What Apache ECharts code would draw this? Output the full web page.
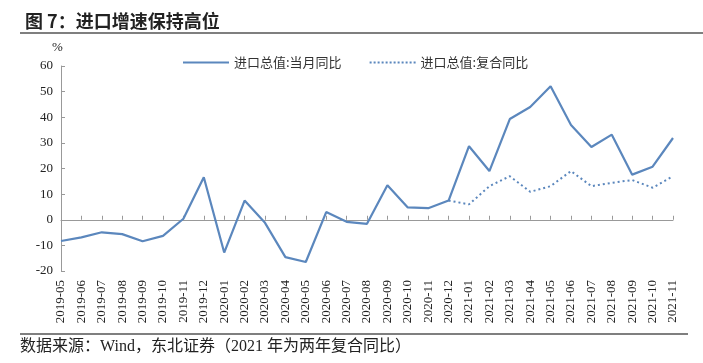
<!DOCTYPE html>
<html>
<head>
<meta charset="utf-8">
<script src="https://cdn.jsdelivr.net/npm/echarts@6/dist/echarts.min.js"></script>
<style>
html,body{margin:0;padding:0;background:#fff;}
#c{width:703px;height:363px;}
</style>
</head>
<body>
<div id="c"></div>
<script>
const categories = ['2019-05','2019-06','2019-07','2019-08','2019-09','2019-10','2019-11','2019-12',
  '2020-01','2020-02','2020-03','2020-04','2020-05','2020-06','2020-07','2020-08','2020-09','2020-10','2020-11','2020-12',
  '2021-01','2021-02','2021-03','2021-04','2021-05','2021-06','2021-07','2021-08','2021-09','2021-10','2021-11'];
const monthlyYoY = [-8.3,-6.9,-4.9,-5.6,-8.4,-6.3,0.4,16.6,
  -12.8,7.5,-1.2,-14.6,-16.5,3.0,-0.8,-1.6,13.5,4.8,4.5,7.5,
  28.7,19.0,39.3,44.0,52.1,37.0,28.4,33.2,17.6,20.7,31.9];
const compoundYoY = [null,null,null,null,null,null,null,null,
  null,null,null,null,null,null,null,null,null,null,null,7.5,
  6.0,13.1,17.0,10.9,13.1,19.0,13.1,14.4,15.5,12.5,17.0];
const yTicks = {min:-20, max:60, interval:10};
const seriesNames = ['进口总值:当月同比','进口总值:复合同比'];
const titleText = '图 7：进口增速保持高位';
const sourceText = '数据来源：Wind，东北证券（2021 年为两年复合同比）';

// dotted legend icon path
let dotPath = 'path://';
for (let i = 0; i < 12; i++) { const x = i * 4; dotPath += 'M' + x + ',5h2v2h-2z'; }
dotPath += 'M46,5h0.01v2h-0.01z';

const chart = echarts.init(document.getElementById('c'), null, {renderer:'canvas'});
const serif = '"Liberation Serif","Noto Sans CJK SC",serif';
const color = '#5b87bd';
chart.setOption({
  animation:false,
  backgroundColor:'#fff',
  title:{text:titleText,left:20,top:7,textStyle:{fontFamily:'"Noto Sans CJK SC"',fontSize:18,fontWeight:'bold',color:'#222'}},
  graphic:[
    {type:'line',shape:{x1:20,y1:33,x2:703,y2:33},style:{stroke:'#555',lineWidth:1.5}},
    {type:'line',shape:{x1:20,y1:334,x2:688,y2:334},style:{stroke:'#555',lineWidth:1.5}},
    {type:'text',left:20,top:339,style:{text:sourceText,font:'16px "Liberation Serif","Noto Sans CJK SC"',fill:'#222'}},
    {type:'text',left:52,top:41,style:{text:'%',font:'13px "Liberation Serif"',fill:'#222'}}
  ],
  legend:{
    top:51,left:178,itemGap:28,itemWidth:46,itemHeight:12,
    textStyle:{fontFamily:'"Noto Sans CJK SC"',fontSize:13,color:'#333'},
    data:[{name:seriesNames[0],icon:'path://M0,5L46,5L46,7L0,7Z'},{name:seriesNames[1],icon:dotPath}]
  },
  grid:{left:61,right:30,top:66,bottom:92},
  xAxis:[
    {type:'category',data:categories,boundaryGap:false,position:'bottom',
     axisLine:{show:false,onZero:false},axisTick:{show:false},
     axisLabel:{interval:0,rotate:90,fontFamily:serif,fontSize:13,color:'#222',margin:9}},
    {type:'category',data:categories,boundaryGap:false,position:'bottom',
     axisLine:{show:true,onZero:true,lineStyle:{color:'#999',width:1}},
     axisTick:{show:true,inside:true,length:4,interval:0,lineStyle:{color:'#999'}},
     axisLabel:{show:false}}
  ],
  yAxis:{type:'value',min:yTicks.min,max:yTicks.max,interval:yTicks.interval,
    axisLine:{show:true,lineStyle:{color:'#999'}},
    axisTick:{show:true,inside:true,length:4,lineStyle:{color:'#999'}},
    splitLine:{show:false},
    axisLabel:{fontFamily:serif,fontSize:13,color:'#222',margin:8}},
  series:[
    {name:seriesNames[0],type:'line',data:monthlyYoY,xAxisIndex:0,showSymbol:false,symbol:'none',
     lineStyle:{color:color,width:2.2},itemStyle:{color:color}},
    {name:seriesNames[1],type:'line',data:compoundYoY,xAxisIndex:0,showSymbol:false,symbol:'none',
     lineStyle:{color:color,width:2,type:[2,3]},itemStyle:{color:color}}
  ]
});
</script>
</body>
</html>
